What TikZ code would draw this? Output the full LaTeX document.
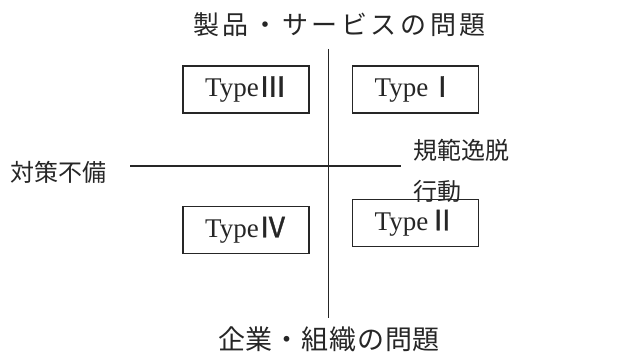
\documentclass[tikz,border=0pt]{standalone}
\usepackage{fontspec}
\setmainfont{Liberation Serif}
\newfontfamily\cjk{Noto Sans CJK JP}
\newfontfamily\cjknum[FakeBold=1.2]{Noto Sans CJK JP}
\newcommand{\rn}[1]{{\cjknum\fontsize{28}{30}\selectfont #1}}
\begin{document}
\begin{tikzpicture}[x=1pt,y=-1pt,
  axis/.style={line width=1.8pt,black!85},
  typebox/.style={draw,line width=1.6pt,black!85,minimum width=126pt,minimum height=47pt,inner sep=0pt,font=\fontsize{27}{30}\selectfont},
  jlabel/.style={inner sep=0pt,font=\cjk\fontsize{24}{28}\selectfont,text=black!85}]
\useasboundingbox (0,0) rectangle (641,352);
\fill[white] (0,0) rectangle (641,352);
\coordinate (vt) at (328.5,49);
\coordinate (vb) at (328.5,318);
\coordinate (hl) at (130,166);
\coordinate (hr) at (401,166);
\draw[axis] (vt) -- (vb);
\draw[axis] (hl) -- (hr);
\node[typebox] (t3) at (246,89.5) {Type\rn{Ⅲ}};
\node[typebox] (t1) at (415.5,89.5) {Type\rn{Ⅰ}};
\node[typebox] (t4) at (246,230) {Type\rn{Ⅳ}};
\node[typebox] (t2) at (415.5,223) {Type\rn{Ⅱ}};
\node[jlabel,font=\cjk\fontsize{26}{30}\selectfont\addfontfeature{LetterSpace=14}] (top) at (339.5,25) {製品・サービスの問題};
\node[jlabel,font=\cjk\fontsize{27}{30}\selectfont\addfontfeature{LetterSpace=3}] (bot) at (329,339) {企業・組織の問題};
\node[jlabel] (left) at (58.5,172) {対策不備};
\node[jlabel,anchor=west] (r1) at (413,150) {規範逸脱};
\node[jlabel,anchor=west] (r2) at (413,191) {行動};
\end{tikzpicture}
\end{document}
